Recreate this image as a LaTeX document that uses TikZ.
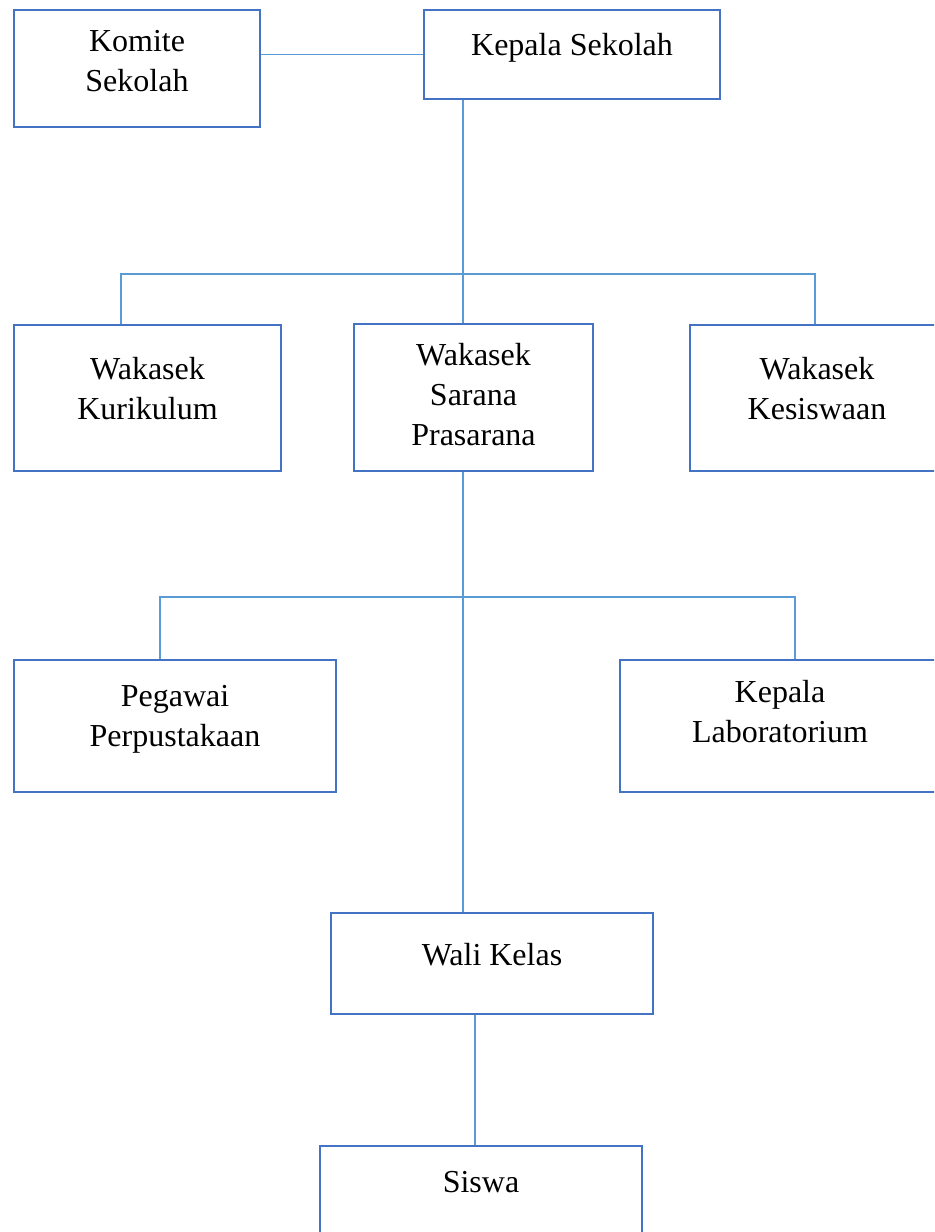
\documentclass[tikz,border=0pt]{standalone}
\usepackage{fontspec}
\setmainfont{Liberation Serif}
\usetikzlibrary{positioning}
\definecolor{garis}{HTML}{4472C4}
\definecolor{hubung}{HTML}{5B9BD5}
\begin{document}
\begin{tikzpicture}[x=0.375pt, y=-0.375pt,
	kotak/.style 2 args={draw=garis, line width=1pt, rectangle, inner sep=0pt,
		minimum width=#1*0.375pt, minimum height=#2*0.375pt},
	teks/.style={inner sep=0pt, align=center, font=\fontsize{12}{15}\selectfont},
	hub/.style={draw=hubung, line width=0.45pt}]
	\useasboundingbox (0,0) rectangle (934,1232);
	\clip (0,0) rectangle (934,1232);
	\node[kotak={246}{117}] (komite) at (137,68.5) {};
	\node[kotak={296}{89}] (kepala) at (572,54.5) {};
	\node[kotak={267}{146}] (kurikulum) at (147.5,398) {};
	\node[kotak={239}{147}] (sarana) at (473.5,397.5) {};
	\node[kotak={254}{146}] (kesiswaan) at (817,398) {};
	\node[kotak={322}{132}] (pegawai) at (175,726) {};
	\node[kotak={320}{132}] (lab) at (780,726) {};
	\node[kotak={322}{101}] (wali) at (492,963.5) {};
	\node[kotak={322}{101}] (siswa) at (481,1196.5) {};
	\node[teks, below=8pt of komite.north] (tkomite) {Komite\\Sekolah};
	\node[teks, below=9pt of kepala.north] (tkepala) {Kepala Sekolah};
	\node[teks, below=12.4pt of kurikulum.north] (tkurikulum) {Wakasek\\Kurikulum};
	\node[teks, below=7.6pt of sarana.north] (tsarana) {Wakasek\\Sarana\\Prasarana};
	\node[teks, below=12.4pt of kesiswaan.north] (tkesiswaan) {Wakasek\\Kesiswaan};
	\node[teks, below=9.8pt of pegawai.north] (tpegawai) {Pegawai\\Perpustakaan};
	\node[teks, below=7.9pt of lab.north] (tlab) {Kepala\\Laboratorium};
	\node[teks, below=11.7pt of wali.north] (twali) {Wali Kelas};
	\node[teks, below=9.8pt of siswa.north] (tsiswa) {Siswa};
	\coordinate (batang) at (463,274);
	\coordinate (kiri1) at (121,274);
	\coordinate (kanan1) at (815,274);
	\coordinate (kiri2) at (160,597);
	\coordinate (kanan2) at (795,597);
	\coordinate (turun) at (475,1080);
	\draw[hub] (kepala.west) -- (kepala.west -| komite.east);
	\draw[hub] (batang |- kepala.south) -- (batang |- sarana.north);
	\draw[hub] (kiri1 |- kurikulum.north) -- (kiri1) -- (kanan1) -- (kanan1 |- kesiswaan.north);
	\draw[hub] (batang |- sarana.south) -- (batang |- wali.north);
	\draw[hub] (kiri2 |- pegawai.north) -- (kiri2) -- (kanan2) -- (kanan2 |- lab.north);
	\draw[hub] (turun |- wali.south) -- (turun |- siswa.north);
\end{tikzpicture}
\end{document}
